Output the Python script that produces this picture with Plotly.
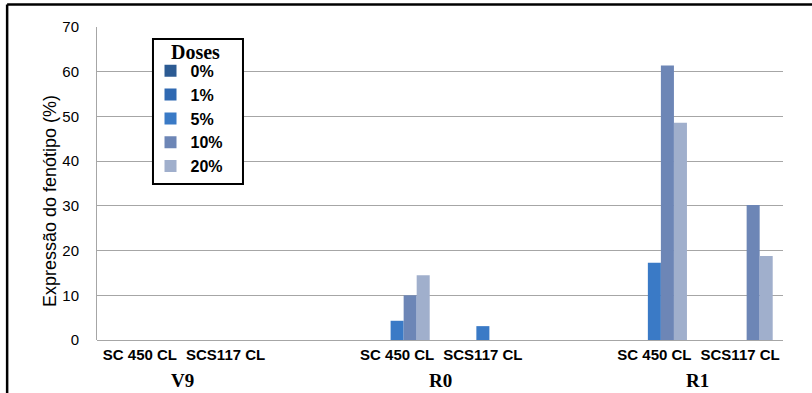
import plotly.graph_objects as go

# Stages and cultivars (x categories)
stages = ["V9", "R0", "R1"]
cultivars = ["SC 450 CL", "SCS117 CL"]

# Dose series and phenotype expression (%) per stage/cultivar,
# ordered V9-SC450, V9-SCS117, R0-SC450, R0-SCS117, R1-SC450, R1-SCS117
doses = ["0%", "1%", "5%", "10%", "20%"]
dose_0 = [0, 0, 0, 0, 0, 0]
dose_1 = [0, 0, 0, 0, 0, 0]
dose_5 = [0, 0, 4.3, 3.1, 17.3, 0]
dose_10 = [0, 0, 10.0, 0, 61.4, 30.2]
dose_20 = [0, 0, 14.5, 0, 48.6, 18.8]
series = [dose_0, dose_1, dose_5, dose_10, dose_20]

colors = ["#2C5B93", "#2F69B2", "#3A7AC6", "#6D86B6", "#A0AFCC"]

# slot positions: two cultivars per stage with an empty slot between stages
xpos = []
xlab = []
for si, st in enumerate(stages):
    for ci, cv in enumerate(cultivars):
        xpos.append(si * 3 + ci)
        xlab.append(cv)

fig = go.Figure()
for name, vals, col in zip(doses, series, colors):
    fig.add_trace(go.Bar(
        x=xpos, y=vals, name=name,
        marker=dict(color=col, line=dict(width=0)),
    ))

font_sans = "Liberation Sans, Arial, sans-serif"
font_serif = "Liberation Serif, Times New Roman, serif"

fig.update_layout(
    width=812, height=393,
    margin=dict(l=97, r=29, t=27, b=53),
    paper_bgcolor="white", plot_bgcolor="white",
    barmode="group", bargap=0.24, bargroupgap=0,
    showlegend=True,
    legend=dict(
        x=0.078, y=0.914, xanchor="left", yanchor="top",
        bgcolor="rgba(0,0,0,0)", borderwidth=0,
        font=dict(family=font_sans, size=16, color="black", weight="bold"),
        tracegroupgap=0, itemwidth=30,
    ),
    xaxis=dict(
        range=[-0.5, 7.5], tickmode="array", tickvals=xpos, ticktext=xlab,
        showgrid=False, zeroline=False, showline=False, ticks="",
        ticklabelstandoff=4,
        tickfont=dict(family=font_sans, size=15, color="black", weight="bold"),
    ),
    yaxis=dict(
        range=[0, 70], dtick=10, showgrid=True, gridcolor="#A6A6A6", gridwidth=1,
        zeroline=True, zerolinecolor="#A6A6A6", zerolinewidth=1,
        showline=True, linecolor="#A6A6A6", linewidth=1,
        ticks="", ticklen=0, ticklabelstandoff=14,
        tickfont=dict(family=font_sans, size=15, color="black"),
    ),
)

# legend frame (white box with black border) and its "Doses" heading
fig.add_shape(type="rect", xref="paper", yref="paper",
              x0=0.0816, x1=0.2128, y0=0.4985, y1=0.9617,
              fillcolor="white", line=dict(color="black", width=2), layer="above")
fig.add_annotation(
    x=0.1443, y=0.962, xref="paper", yref="paper",
    text="<b>Doses</b>", showarrow=False, xanchor="center", yanchor="top",
    font=dict(family=font_serif, size=20, color="black"),
)

# y-axis title
fig.add_annotation(
    x=-0.0685, y=0.444, xref="paper", yref="paper",
    text="Expressão do fenótipo (%)", textangle=-90, showarrow=False,
    xanchor="center", yanchor="middle",
    font=dict(family=font_sans, size=18, color="black"),
)

# stage labels under each pair of cultivars
for si, st in enumerate(stages):
    fig.add_annotation(
        x=si * 3 + 0.5, y=-0.128, xref="x", yref="paper",
        text="<b>%s</b>" % st, showarrow=False, yanchor="middle",
        font=dict(family=font_serif, size=19, color="black"),
    )

# frame lines along the top and left edges of the figure
fig.add_shape(type="line", xref="paper", yref="paper",
              x0=-0.131, x1=1.05, y0=1.072, y1=1.072,
              line=dict(color="black", width=2.5))
fig.add_shape(type="line", xref="paper", yref="paper",
              x0=-0.131, x1=-0.131, y0=1.072, y1=-0.2,
              line=dict(color="black", width=2.5))

fig.write_html("out.html")
